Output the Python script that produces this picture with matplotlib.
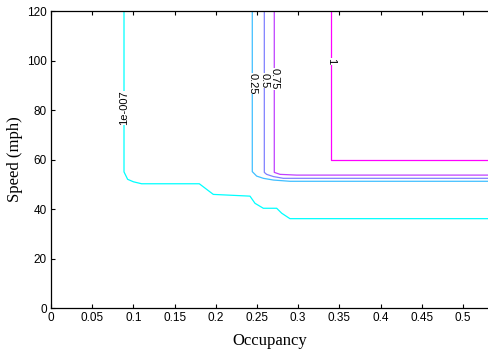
import numpy as np
import matplotlib
matplotlib.use("Agg")
import matplotlib.pyplot as plt

# Iso-probability contours in occupancy / speed space
levels = ["1e-007", "0.25", "0.5", "0.75", "1"]
level_colors = [(0, 1, 1), (0.25, 0.75, 1), (0.5, 0.5, 1), (0.75, 0.25, 1), (1, 0, 1)]

occ_1e7 = [0.0886, 0.0886, 0.093, 0.100, 0.110, 0.180, 0.197, 0.2415, 0.2476, 0.2577, 0.2739, 0.280, 0.290, 0.5316]
spd_1e7 = [120, 55.0, 52.0, 51.0, 50.2, 50.2, 45.9, 45.2, 42.3, 40.3, 40.3, 38.3, 36.1, 36.1]

occ_025 = [0.2443, 0.2443, 0.2496, 0.2577, 0.270, 0.290, 0.5316]
spd_025 = [120, 55.1, 53.3, 52.4, 51.7, 51.2, 51.2]

occ_05 = [0.2589, 0.2589, 0.2617, 0.270, 0.282, 0.5316]
spd_05 = [120, 54.8, 54.0, 53.1, 52.4, 52.4]

occ_075 = [0.271, 0.271, 0.278, 0.298, 0.5316]
spd_075 = [120, 54.8, 54.0, 53.7, 53.7]

occ_1 = [0.3398, 0.3398, 0.5316]
spd_1 = [120, 60.0, 60.0]

contours = [(occ_1e7, spd_1e7), (occ_025, spd_025), (occ_05, spd_05),
            (occ_075, spd_075), (occ_1, spd_1)]

# label anchor speeds and text rotation for each contour
label_speed = [80.8, 90.7, 92.0, 92.5, 99.6]
label_rot = [90, 270, 270, 270, 270]

fig = plt.figure(figsize=(4.89, 3.56), dpi=100)
ax = fig.add_axes([0.1043, 0.1348, 0.8957, 0.8343])

for (xs, ys), col, txt, sp, rot in zip(contours, level_colors, levels, label_speed, label_rot):
    ax.plot(xs, ys, color=col, linewidth=0.9, zorder=2)
    kw = dict(rotation=rot, ha="center", va="center", fontsize=8,
              family="Liberation Sans")
    # white patch to break the contour line under its label
    ax.text(xs[0], sp, txt, color="none", zorder=2.5,
            bbox=dict(facecolor="white", edgecolor="none", pad=0), **kw)
    ax.text(xs[0], sp, txt, color="black", zorder=3, **kw)

ax.set_xlim(0, 0.5316)
ax.set_ylim(0, 120)
ax.set_xticks(np.arange(0, 0.51, 0.05))
ax.set_xticklabels(["0", "0.05", "0.1", "0.15", "0.2", "0.25", "0.3",
                    "0.35", "0.4", "0.45", "0.5"])
ax.set_yticks(np.arange(0, 121, 20))

for lab in ax.get_xticklabels() + ax.get_yticklabels():
    lab.set_family("Liberation Sans")
    lab.set_fontsize(8.5)

ax.tick_params(direction="in", length=3, width=0.8, top=True, right=False, pad=3)
ax.spines["right"].set_visible(False)
for s in ["left", "bottom", "top"]:
    ax.spines[s].set_linewidth(0.9)

ax.set_xlabel("Occupancy", family="Liberation Serif", fontsize=12, labelpad=6)
ax.set_ylabel("Speed (mph)", family="Liberation Serif", fontsize=12, labelpad=3)

fig.savefig("out.png", dpi=100)
